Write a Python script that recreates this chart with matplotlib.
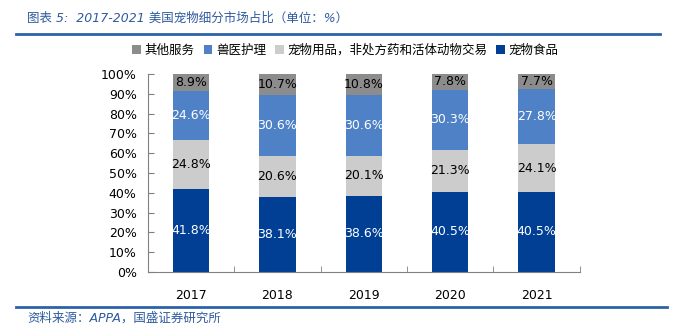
import matplotlib
matplotlib.use("Agg")
import matplotlib.pyplot as plt
from matplotlib.lines import Line2D
from matplotlib.patches import Patch
import numpy as np

plt.rcParams['font.family'] = ['DejaVu Sans', 'Noto Sans CJK SC']

years = ["2017", "2018", "2019", "2020", "2021"]
series_names = ["宠物食品", "宠物用品，非处方药和活体动物交易", "兽医护理", "其他服务"]
food = [41.8, 38.1, 38.6, 40.5, 40.5]
supplies = [24.8, 20.6, 20.1, 21.3, 24.1]
vet = [24.6, 30.6, 30.6, 30.3, 27.8]
other = [8.9, 10.7, 10.8, 7.8, 7.7]

colors = ["#003F94", "#CCCCCC", "#4F81C6", "#8C8C8C"]
label_colors = ["white", "black", "white", "black"]

fig = plt.figure(figsize=(6.75, 3.29), dpi=100)
ax = fig.add_axes([0.219, 0.173, 0.640, 0.602])

x = np.arange(len(years))
bottom = np.zeros(len(years))
handles = {}
for name, vals, c, lc in zip(series_names, [food, supplies, vet, other], colors, label_colors):
    vals = np.array(vals)
    ax.bar(x, vals, width=0.42, bottom=bottom, color=c, edgecolor='none', zorder=2)
    for xi, b, v in zip(x, bottom, vals):
        ax.text(xi, b + v / 2, f"{v:.1f}%", ha='center', va='center',
                color=lc, fontsize=9, fontfamily='DejaVu Sans')
    handles[name] = Patch(facecolor=c, edgecolor='none')
    bottom += vals

ax.set_xlim(-0.5, len(years) - 0.5)
ax.set_ylim(0, 100)
ax.set_yticks(np.arange(0, 101, 10))
ax.set_yticklabels([f"{v}%" for v in range(0, 101, 10)], fontsize=9)
ax.set_xticks(x)
ax.set_xticklabels(years, fontsize=9)
ax.tick_params(axis='x', length=0, pad=12)
ax.set_xticks(np.arange(-0.5, len(years), 1.0), minor=True)
ax.tick_params(axis='x', which='minor', direction='in', length=4, color='#808080')
ax.tick_params(axis='y', direction='in', length=4, color='#808080', pad=8)
for s in ['top', 'right']:
    ax.spines[s].set_visible(False)
for s in ['left', 'bottom']:
    ax.spines[s].set_color('#808080')
    ax.spines[s].set_linewidth(0.8)

legend_order = ["其他服务", "兽医护理", "宠物用品，非处方药和活体动物交易", "宠物食品"]
fig.legend([handles[n] for n in legend_order], legend_order,
           loc='center', bbox_to_anchor=(0.512, 0.848), ncol=4, frameon=False,
           prop={'family': ['Noto Sans CJK SC'], 'size': 9},
           handlelength=0.7, handleheight=0.7, handletextpad=0.3, columnspacing=0.7)

title_color = "#2E5A9E"
fig.text(0.04, 0.945, "图表 5:  2017-2021 美国宠物细分市场占比（单位：%）",
         fontsize=9, style='italic', color=title_color, ha='left', va='center')
fig.add_artist(Line2D([16 / 675, 660 / 675], [1 - 34 / 329, 1 - 34 / 329],
                      color='#2E62A8', linewidth=2.0))
fig.add_artist(Line2D([16 / 675, 667 / 675], [1 - 307 / 329, 1 - 307 / 329],
                      color='#2E62A8', linewidth=2.0))
fig.text(0.04, 1 - 318 / 329, "资料来源：APPA，国盛证券研究所",
         fontsize=9, style='italic', color=title_color, ha='left', va='center')

fig.savefig("out.png", dpi=100)
